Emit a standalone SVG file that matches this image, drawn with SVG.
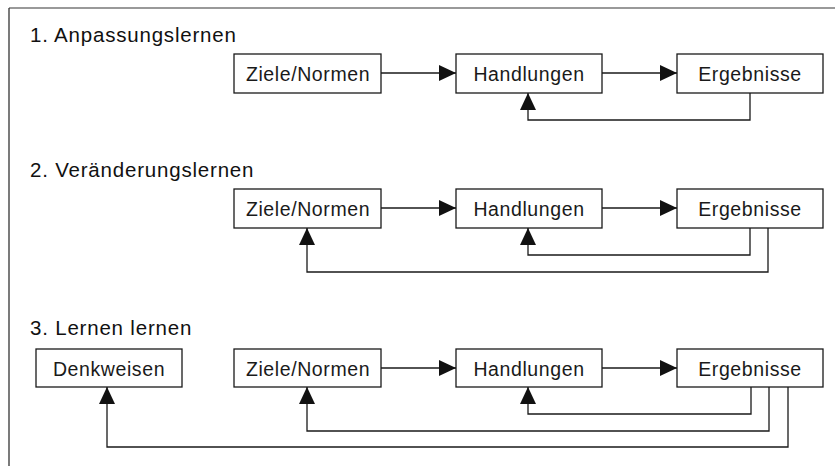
<svg xmlns="http://www.w3.org/2000/svg" width="835" height="467" viewBox="0 0 835 467">
  <style>
    .box { fill: #fff; stroke: #1a1a1a; stroke-width: 1.3; }
    .lbl { font-family: "Liberation Sans", Arial, sans-serif; font-size: 19.5px; letter-spacing: 0.6px; fill: #1a1a1a; text-anchor: middle; }
    .ttl { font-family: "Liberation Sans", Arial, sans-serif; font-size: 20.5px; letter-spacing: 0.8px; fill: #111; }
    .wire { fill: none; stroke: #1a1a1a; stroke-width: 1.3; marker-end: url(#tri); }
  </style>
  <defs>
    <marker id="tri" markerUnits="userSpaceOnUse" markerWidth="17" markerHeight="16" viewBox="0 0 17 16" refX="17" refY="8" orient="auto">
      <path d="M0,0 L17,8 L0,16 Z" fill="#111"/>
    </marker>
  </defs>

  <!-- frame -->
  <line x1="9" y1="8" x2="835" y2="8" stroke="#777" stroke-width="1.4"/>
  <line x1="9" y1="8" x2="9" y2="466" stroke="#333" stroke-width="1.3"/>

  <!-- section titles -->
  <text class="ttl" x="30" y="42">1. Anpassungslernen</text>
  <text class="ttl" x="30" y="177">2. Veränderungslernen</text>
  <text class="ttl" x="30" y="335">3. Lernen lernen</text>

  <!-- connectors -->
  <g id="connectors">
    <!-- row 1 -->
    <path class="wire" d="M381,73 H456"/>
    <path class="wire" d="M602,73 H677"/>
    <path class="wire" d="M750,93 V120 H528 V93"/>
    <!-- row 2 -->
    <path class="wire" d="M381,208 H456"/>
    <path class="wire" d="M602,208 H677"/>
    <path class="wire" d="M750,228 V255 H528 V228"/>
    <path class="wire" d="M768,228 V272 H307 V228"/>
    <!-- row 3 -->
    <path class="wire" d="M381,368 H456"/>
    <path class="wire" d="M602,368 H677"/>
    <path class="wire" d="M751,387 V414 H528 V387"/>
    <path class="wire" d="M769,387 V431 H307 V387"/>
    <path class="wire" d="M788,387 V447 H107 V387"/>
  </g>

  <!-- row 1 nodes -->
  <g id="r1-ziele">
    <rect class="box" x="234" y="54" width="147" height="39"/>
    <text class="lbl" x="308" y="81">Ziele/Normen</text>
  </g>
  <g id="r1-handlungen">
    <rect class="box" x="456" y="54" width="146" height="39"/>
    <text class="lbl" x="529" y="81">Handlungen</text>
  </g>
  <g id="r1-ergebnisse">
    <rect class="box" x="677" y="54" width="146" height="39"/>
    <text class="lbl" x="750" y="81">Ergebnisse</text>
  </g>

  <!-- row 2 nodes -->
  <g id="r2-ziele">
    <rect class="box" x="234" y="189" width="147" height="39"/>
    <text class="lbl" x="308" y="216">Ziele/Normen</text>
  </g>
  <g id="r2-handlungen">
    <rect class="box" x="456" y="189" width="146" height="39"/>
    <text class="lbl" x="529" y="216">Handlungen</text>
  </g>
  <g id="r2-ergebnisse">
    <rect class="box" x="677" y="189" width="146" height="39"/>
    <text class="lbl" x="750" y="216">Ergebnisse</text>
  </g>

  <!-- row 3 nodes -->
  <g id="r3-denkweisen">
    <rect class="box" x="36" y="349" width="146" height="38"/>
    <text class="lbl" x="109" y="376">Denkweisen</text>
  </g>
  <g id="r3-ziele">
    <rect class="box" x="234" y="349" width="147" height="38"/>
    <text class="lbl" x="308" y="376">Ziele/Normen</text>
  </g>
  <g id="r3-handlungen">
    <rect class="box" x="456" y="349" width="146" height="38"/>
    <text class="lbl" x="529" y="376">Handlungen</text>
  </g>
  <g id="r3-ergebnisse">
    <rect class="box" x="677" y="349" width="146" height="38"/>
    <text class="lbl" x="750" y="376">Ergebnisse</text>
  </g>
</svg>
